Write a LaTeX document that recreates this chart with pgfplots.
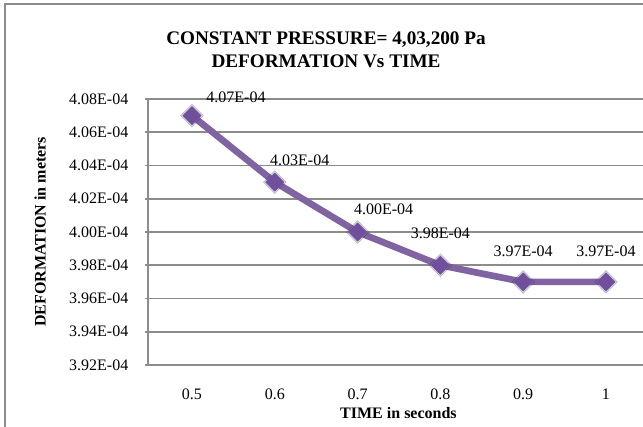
\documentclass[border=0pt]{standalone}
\usepackage{fontspec}
\setmainfont{Liberation Serif}
\usepackage{pgfplots}
\usepackage{pgfplotstable}
\pgfplotsset{compat=1.18}

\definecolor{linepurple}{HTML}{8064A2}
\definecolor{markpurple}{HTML}{6B4A9B}
\definecolor{gridgray}{HTML}{8C8C8C}

% time, deformation, label, label offsets (pt)
\pgfplotstableread{
t   d        lab       dx     dy
0.5 4.07e-4  4.07E-04  33     13.5
0.6 4.03e-4  4.03E-04  18.75  16.5
0.7 4.00e-4  4.00E-04  19.5   17.25
0.8 3.98e-4  3.98E-04  0      24
0.9 3.97e-4  3.97E-04  0      23.25
1.0 3.97e-4  3.97E-04  0      23.25
}\deftable

\begin{document}
\begin{tikzpicture}
\begin{axis}[
  scale only axis, width=371.25pt, height=199.5pt,
  xmin=0.4469, xmax=1.0447,
  ymin=3.92e-4, ymax=4.08e-4,
  axis x line*=bottom, axis y line*=left,
  axis line style={gridgray, line width=1.4pt},
  xtick={0.5,0.6,0.7,0.8,0.9,1.0},
  xticklabels={0.5,0.6,0.7,0.8,0.9,1},
  xtick style={draw=none},
  ytick={3.92e-4,3.94e-4,3.96e-4,3.98e-4,4.00e-4,4.02e-4,4.04e-4,4.06e-4,4.08e-4},
  yticklabels={3.92E-04,3.94E-04,3.96E-04,3.98E-04,4.00E-04,4.02E-04,4.04E-04,4.06E-04,4.08E-04},
  scaled y ticks=false,
  tick align=outside, major tick length=2.25pt,
  ytick style={gridgray, line width=1.4pt},
  ymajorgrids, major grid style={gridgray, line width=1.4pt},
  tick label style={font=\fontsize{12}{14}\selectfont},
  xticklabel style={yshift=-12pt},
  yticklabel style={xshift=-9pt},
  /pgf/number format/assume math mode=true,
  title={CONSTANT PRESSURE= 4,03,200 Pa\\DEFORMATION Vs TIME},
  title style={at={(0.3596,1.156)}, anchor=center, align=center,
    font=\fontsize{14.4}{17}\selectfont\bfseries},
  xlabel={TIME in seconds},
  xlabel style={at={(0.506,-0.18)}, anchor=center, font=\fontsize{12}{14}\selectfont\bfseries},
  ylabel={DEFORMATION in meters},
  ylabel style={at={(-0.218,0.5)}, anchor=center, font=\fontsize{12}{14}\selectfont\bfseries},
]
\addplot[linepurple, line width=5pt, line join=round,
  mark=square*, mark size=4.8pt,
  mark options={rotate=45, fill=markpurple, draw=markpurple, line width=0.5pt},
  point meta=explicit symbolic,
  visualization depends on={\thisrow{dx}\as\dx},
  visualization depends on={\thisrow{dy}\as\dy},
  nodes near coords,
  every node near coord/.append style={anchor=center, text=black,
    xshift=\dx pt, yshift=\dy pt, font=\fontsize{12}{14}\selectfont},
] table[x=t, y=d, meta=lab] {\deftable};
% soft glow round the markers
\addplot[only marks, mark=square*, mark size=6pt,
  mark options={rotate=45, fill=linepurple, draw=none, opacity=0.25}]
  table[x=t, y=d] {\deftable};
\end{axis}
\pgfresetboundingbox
\path[use as bounding box] (-111pt,-45.75pt) rectangle (371.25pt,273.75pt);
\begin{scope}
  \clip (-111pt,-45.75pt) rectangle (371.25pt,273.75pt);
  \draw[gridgray, line width=1.5pt] (-107.6pt,-80pt) rectangle (420pt,270.4pt);
\end{scope}
\end{tikzpicture}
\end{document}
